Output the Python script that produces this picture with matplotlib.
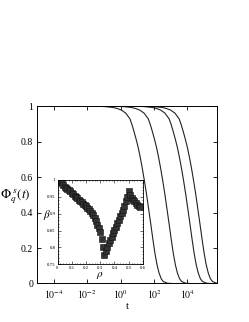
import matplotlib
matplotlib.use('Agg')
import matplotlib.pyplot as plt
from matplotlib.ticker import MultipleLocator, FixedLocator

plt.rcParams['font.family'] = ['Liberation Serif', 'DejaVu Serif']
plt.rcParams['mathtext.fontset'] = 'stix'

# relaxation curves (log10 t, shared phi levels)
phi_levels = [1.0, 0.999, 0.997, 0.992, 0.986, 0.977, 0.96, 0.928, 0.895, 0.855,
              0.812, 0.765, 0.708, 0.645, 0.575, 0.50, 0.418, 0.335, 0.25, 0.17,
              0.105, 0.058, 0.027, 0.011, 0.0015, 0.0]
logt_curve1 = [-3.0, -1.45, -0.95, -0.45, -0.2, 0.05, 0.3, 0.55, 0.675, 0.8,
               0.925, 1.05, 1.175, 1.3, 1.425, 1.55, 1.675, 1.8, 1.925, 2.05,
               2.175, 2.3, 2.425, 2.55, 2.8, 3.05]
logt_curve2 = [-3.0, -0.35, 0.15, 0.65, 0.9, 1.15, 1.4, 1.65, 1.775, 1.9,
               2.025, 2.15, 2.275, 2.4, 2.525, 2.65, 2.775, 2.9, 3.025, 3.15,
               3.275, 3.4, 3.525, 3.65, 3.9, 4.15]
logt_curve3 = [-3.0, 0.9, 1.4, 1.9, 2.15, 2.4, 2.65, 2.9, 3.025, 3.15,
               3.275, 3.4, 3.525, 3.65, 3.775, 3.9, 4.025, 4.15, 4.275, 4.4,
               4.525, 4.65, 4.775, 4.9, 5.15, 5.4]
logt_curve4 = [-3.0, 1.5, 2.0, 2.5, 2.75, 3.0, 3.25, 3.5, 3.625, 3.75,
               3.875, 4.0, 4.125, 4.25, 4.375, 4.5, 4.625, 4.75, 4.875, 5.0,
               5.125, 5.25, 5.375, 5.5, 5.75, 6.0]

# inset: stretching exponent vs density
rho = [0.01, 0.02, 0.03, 0.04, 0.05, 0.06, 0.07, 0.08, 0.09, 0.10,
       0.11, 0.12, 0.13, 0.14, 0.15, 0.16, 0.17, 0.18, 0.19, 0.20,
       0.21, 0.22, 0.23, 0.24, 0.25, 0.26, 0.27, 0.28, 0.29, 0.30,
       0.31, 0.32, 0.33, 0.34, 0.35, 0.36, 0.37, 0.38, 0.39, 0.40,
       0.41, 0.42, 0.43, 0.44, 0.45, 0.46, 0.47, 0.48, 0.49, 0.50,
       0.51, 0.52, 0.53, 0.54, 0.55, 0.56, 0.57, 0.58]
beta = [0.998, 0.994, 0.990, 0.985, 0.980, 0.977, 0.973, 0.969, 0.966, 0.962,
        0.958, 0.954, 0.950, 0.946, 0.942, 0.938, 0.934, 0.930, 0.927, 0.923,
        0.918, 0.913, 0.908, 0.902, 0.895, 0.887, 0.878, 0.868, 0.857, 0.845,
        0.825, 0.802, 0.778, 0.790, 0.801, 0.812, 0.822, 0.832, 0.842, 0.852,
        0.862, 0.872, 0.882, 0.892, 0.902, 0.912, 0.924, 0.937, 0.951, 0.966,
        0.956, 0.948, 0.942, 0.937, 0.932, 0.927, 0.923, 0.919]

fig = plt.figure(figsize=(2.49, 3.22), dpi=100)
ax = fig.add_axes([0.150, 0.1196, 0.722, 0.551])

for lt in [logt_curve1, logt_curve2, logt_curve3, logt_curve4]:
    ax.plot([10 ** v for v in lt], phi_levels, color='#222222', lw=0.8)

ax.set_xscale('log')
ax.set_xlim(1e-5, 6e5)
ax.set_ylim(0, 1)
ax.xaxis.set_major_locator(FixedLocator([1e-4, 1e-2, 1e0, 1e2, 1e4]))
ax.xaxis.set_minor_locator(FixedLocator([]))
ax.set_xticklabels([r'$10^{-4}$', r'$10^{-2}$', r'$10^{0}$', r'$10^{2}$', r'$10^{4}$'])
ax.set_yticks([0, 0.2, 0.4, 0.6, 0.8, 1.0])
ax.set_yticklabels(['0', '0.2', '0.4', '0.6', '0.8', '1'])
ax.tick_params(direction='in', top=True, right=True, length=3, width=0.6,
               labelsize=7, pad=3)
for s in ax.spines.values():
    s.set_linewidth(0.7)
ax.set_xlabel('t', fontsize=8, labelpad=1)
ax.set_ylabel(r'$\Phi_q^{\ s}(t)$', fontsize=9.5, rotation=0, ha='center', va='center')
ax.yaxis.set_label_coords(-0.125, 0.49)

ins = fig.add_axes([0.231, 0.179, 0.343, 0.262])
ins.plot(rho, beta, ls='none', marker='s', ms=4.3, color='#333333', mec='#111111', mew=0.4)
ins.set_xlim(0, 0.6)
ins.set_ylim(0.75, 1.0)
ins.set_xticks([0, 0.1, 0.2, 0.3, 0.4, 0.5, 0.6])
ins.set_xticklabels(['0', '0.1', '0.2', '0.3', '0.4', '0.5', '0.6'])
ins.set_yticks([0.75, 0.8, 0.85, 0.9, 0.95, 1.0])
ins.set_yticklabels(['0.75', '0.8', '0.85', '0.9', '0.95', '1'])
ins.xaxis.set_minor_locator(MultipleLocator(0.02))
ins.yaxis.set_minor_locator(MultipleLocator(0.01))
ins.tick_params(which='both', direction='in', top=True, right=True, width=0.4,
                labelsize=3.5, pad=1.5)
ins.tick_params(which='major', length=2)
ins.tick_params(which='minor', length=1)
for s in ins.spines.values():
    s.set_linewidth(0.6)
ins.set_xlabel(r'$\rho$', fontsize=8, labelpad=0)
ins.set_ylabel(r'$\beta$', fontsize=8, labelpad=0, rotation=0)

fig.savefig('out.png', dpi=100)
